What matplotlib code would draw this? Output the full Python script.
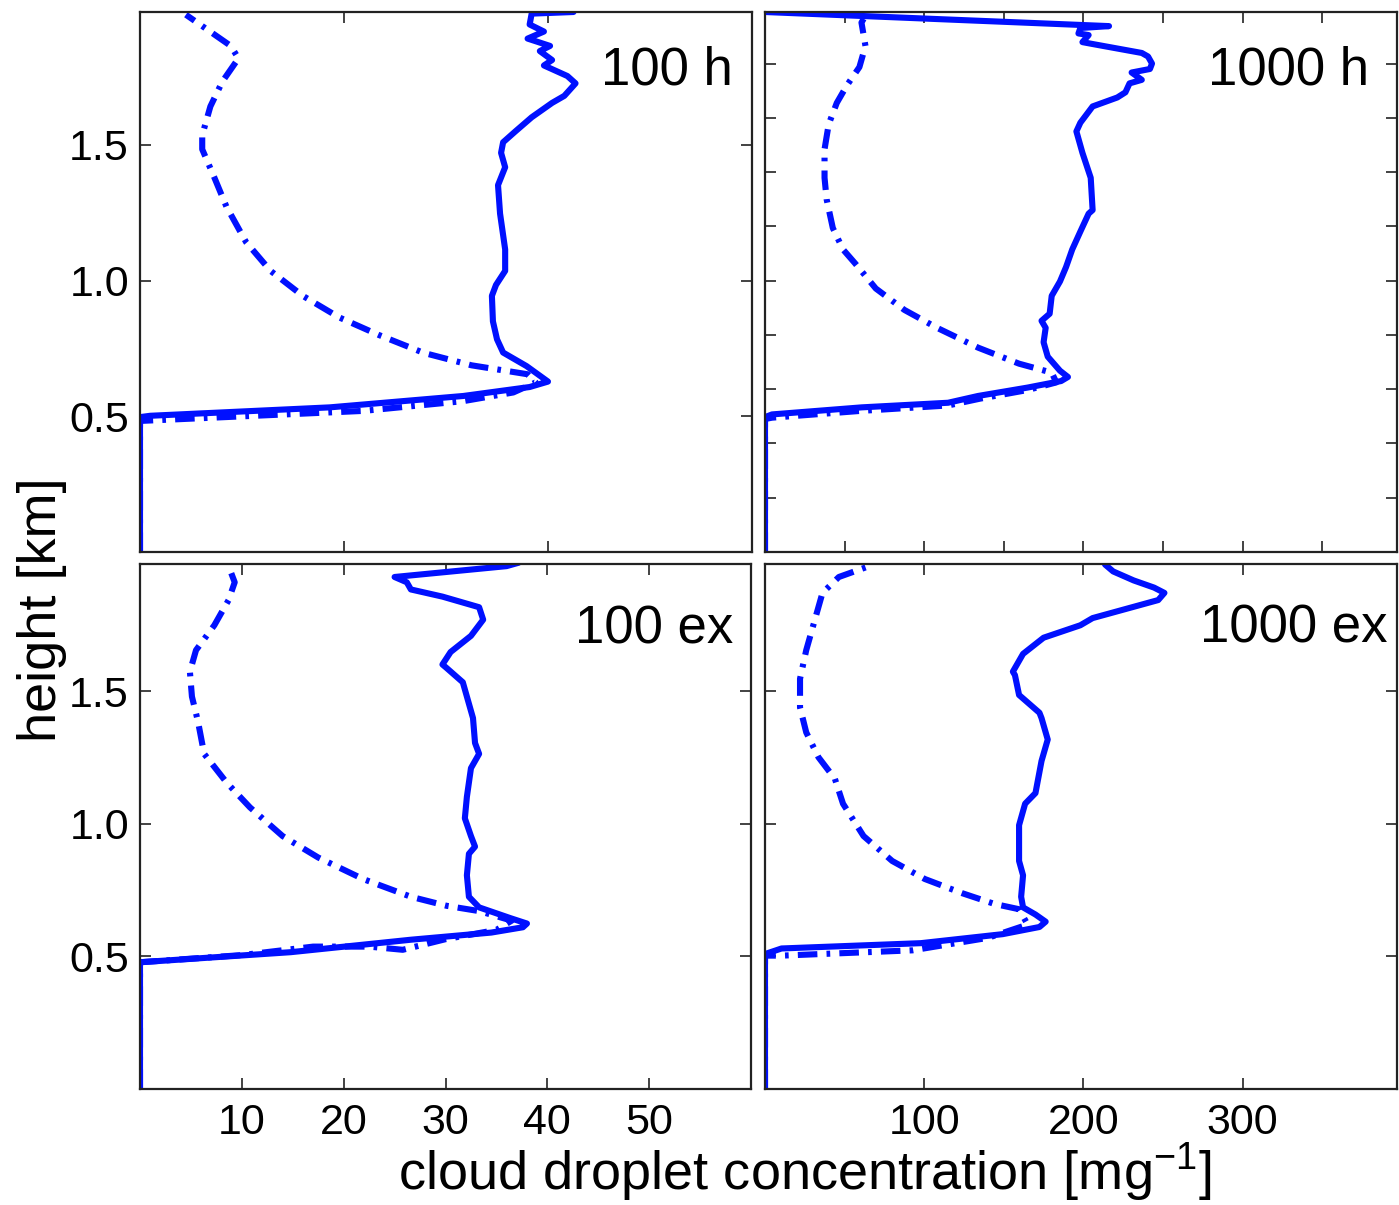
import matplotlib
matplotlib.use("Agg")
import matplotlib.pyplot as plt

plt.rcParams['font.family'] = ['Liberation Sans', 'DejaVu Sans']
plt.rcParams['mathtext.fontset'] = 'custom'
plt.rcParams['mathtext.rm'] = 'Liberation Sans'
plt.rcParams['mathtext.it'] = 'Liberation Sans:italic'

# ---------------- data ----------------
panel_labels = ["100 h", "1000 h", "100 ex", "1000 ex"]

h100_solid_x = [0, 0, 1, 18.6, 31.7, 38.2, 40.0, 37.9, 35.6, 35.0, 34.6, 34.5, 34.9, 35.8, 35.8, 35.3, 35.1,
                35.8, 35.4, 35.6, 36.8, 38.4, 40.4, 41.6, 42.7, 41.9, 39.6, 40.4, 39.2, 40.2, 38.0, 39.6, 38.2,
                38.4, 42.5]
h100_solid_y = [0, 0.497, 0.502, 0.533, 0.575, 0.608, 0.628, 0.685, 0.735, 0.784, 0.85, 0.944, 0.984, 1.036,
                1.115, 1.247, 1.352, 1.418, 1.471, 1.51, 1.55, 1.602, 1.655, 1.681, 1.727, 1.754, 1.793, 1.813,
                1.846, 1.865, 1.892, 1.918, 1.944, 1.984, 1.99]
h100_dash_x = [0, 0, 21.9, 31.7, 36.6, 38.8, 38.0, 32.5, 27.8, 23.4, 19.5, 15.96, 12.8, 10.4, 8.47, 7.3, 6.1,
               6.1, 6.9, 8.08, 9.65, 8.9, 4.5]
h100_dash_y = [0, 0.483, 0.52, 0.556, 0.588, 0.625, 0.655, 0.688, 0.734, 0.8, 0.865, 0.944, 1.036, 1.142,
               1.273, 1.379, 1.484, 1.536, 1.642, 1.734, 1.819, 1.865, 1.98]

h1000_solid_x = [0, 0, 4.4, 60.7, 115, 133.8, 165, 186, 190.3, 185.3, 177.6, 175, 176.3, 173.7, 178.8, 180.1,
                 185.3, 189.1, 193, 198.1, 203.3, 205.8, 204.6, 199.4, 195.6, 198.1, 205.8, 221.3, 226.4, 229,
                 236.7, 230.3, 241.8, 243.1, 240.6, 236.7, 205.8, 199.4, 203.3, 196.9, 198.1, 216.1, 0]
h1000_solid_y = [0, 0.497, 0.507, 0.533, 0.55, 0.575, 0.606, 0.63, 0.645, 0.668, 0.72, 0.773, 0.826, 0.852,
                 0.878, 0.944, 0.997, 1.05, 1.115, 1.181, 1.247, 1.26, 1.379, 1.471, 1.55, 1.582, 1.642, 1.675,
                 1.694, 1.727, 1.74, 1.767, 1.78, 1.8, 1.826, 1.839, 1.872, 1.879, 1.905, 1.911, 1.931, 1.938,
                 1.99]
h1000_dash_x = [0, 0, 4.4, 60, 115, 135, 165, 183, 180.1, 159.6, 133.9, 108.1, 87.6, 69.6, 56.7, 49, 42.6,
                38.7, 37.4, 37.4, 40, 45.1, 51.6, 59.3, 63.1, 60.6, 62]
h1000_dash_y = [0, 0.49, 0.495, 0.52, 0.54, 0.565, 0.597, 0.625, 0.661, 0.694, 0.753, 0.826, 0.892, 0.971,
                1.063, 1.115, 1.194, 1.3, 1.379, 1.484, 1.576, 1.655, 1.721, 1.787, 1.865, 1.951, 1.965]

ex100_solid_x = [0, 0, 14.8, 26.6, 34.5, 37.6, 38.0, 36.4, 33.3, 32.3, 32.1, 32.3, 32.9, 32.5, 31.9, 32.1,
                 32.5, 33.3, 32.9, 32.7, 32.1, 31.7, 30.1, 29.7, 30.5, 32.5, 33.7, 33.3, 29.7, 26.6, 26.2,
                 25.0, 36.0, 37.2]
ex100_solid_y = [0, 0.478, 0.516, 0.563, 0.59, 0.61, 0.624, 0.644, 0.685, 0.725, 0.806, 0.887, 0.914, 0.954,
                 1.021, 1.102, 1.21, 1.264, 1.305, 1.399, 1.48, 1.534, 1.588, 1.601, 1.648, 1.709, 1.77, 1.817,
                 1.857, 1.884, 1.911, 1.931, 1.972, 1.985]
ex100_dash_x = [0, 0, 10, 17.0, 22.5, 25.8, 30, 35, 36.5, 33.3, 30.1, 26.6, 21.9, 17.5, 14.0, 10.8, 8.5, 6.3,
                5.7, 5.1, 4.9, 5.5, 7.3, 8.7, 9.3, 8.7]
ex100_dash_y = [0, 0.478, 0.505, 0.537, 0.537, 0.525, 0.565, 0.6, 0.635, 0.671, 0.691, 0.725, 0.792, 0.873,
                0.954, 1.062, 1.156, 1.264, 1.385, 1.48, 1.574, 1.655, 1.749, 1.844, 1.911, 1.972]

ex1000_solid_x = [0, 0, 10.4, 97.9, 149.3, 172.4, 176.3, 169.9, 162.1, 160.9, 162.1, 159.6, 159.6, 163.4,
                  169.9, 173.7, 177.6, 173.7, 172.4, 159.6, 157, 155.7, 162.1, 175, 198.1, 205.8, 226.4, 247,
                  250.9, 244.4, 231.6, 218.7, 213.6]
ex1000_solid_y = [0, 0.509, 0.53, 0.55, 0.584, 0.611, 0.631, 0.658, 0.685, 0.725, 0.806, 0.86, 0.995, 1.076,
                  1.116, 1.237, 1.318, 1.399, 1.419, 1.486, 1.561, 1.574, 1.641, 1.702, 1.749, 1.776, 1.81,
                  1.844, 1.871, 1.891, 1.918, 1.952, 1.978]
ex1000_dash_x = [0, 0, 10.4, 92.7, 140, 165, 159.6, 144.1, 123.6, 100.4, 79.9, 61.9, 49, 43.9, 33.6, 25.9,
                 22, 22, 25.9, 31, 36.1, 46.4, 68.3]
ex1000_dash_y = [0, 0.503, 0.503, 0.523, 0.57, 0.62, 0.678, 0.698, 0.739, 0.792, 0.86, 0.954, 1.076, 1.17,
                 1.251, 1.345, 1.439, 1.547, 1.655, 1.763, 1.871, 1.931, 1.978]

left_xticks = [10, 20, 30, 40, 50]
left_xticks_top = [20, 40]
right_xticks = [100, 200, 300]
right_xticks_top = [50, 100, 150, 200, 250, 300, 350]
yticks = [0.5, 1.0, 1.5]
yticks_fine = [0.2, 0.4, 0.6, 0.8, 1.0, 1.2, 1.4, 1.6, 1.8]

# ---------------- figure ----------------
W, H = 1399, 1205
fig = plt.figure(figsize=(W / 100, H / 100), dpi=100)

def px_axes(x0, x1, y0, y1):
    return fig.add_axes([x0 / W, 1 - y1 / H, (x1 - x0) / W, (y1 - y0) / H])

ax_tl = px_axes(140, 752, 12, 552)
ax_tr = px_axes(765, 1397, 12, 552)
ax_bl = px_axes(140, 751, 564, 1089)
ax_br = px_axes(765, 1397, 564, 1089)

blue = '#0010ff'
dash_style = (0, (3.2, 1.5, 0.6, 1.5))

panels = [
    (ax_tl, h100_solid_x, h100_solid_y, h100_dash_x, h100_dash_y, panel_labels[0], (0.969, 0.865)),
    (ax_tr, h1000_solid_x, h1000_solid_y, h1000_dash_x, h1000_dash_y, panel_labels[1], (0.956, 0.865)),
    (ax_bl, ex100_solid_x, ex100_solid_y, ex100_dash_x, ex100_dash_y, panel_labels[2], (0.971, 0.848)),
    (ax_br, ex1000_solid_x, ex1000_solid_y, ex1000_dash_x, ex1000_dash_y, panel_labels[3], (0.985, 0.850)),
]

for ax, sx, sy, dx, dy, lab, pos in panels:
    ax.plot(dx, dy, color=blue, lw=4.4, linestyle=dash_style, dash_capstyle='butt', zorder=2)
    ax.plot(sx, sy, color=blue, lw=4.4, solid_joinstyle='round', solid_capstyle='round', zorder=2)
    ax.text(pos[0], pos[1], lab, transform=ax.transAxes, ha='right', va='baseline', fontsize=38,
            color='black')
    ax.tick_params(direction='in', length=8, width=1.2, top=True, right=True, labelsize=31,
                   colors='#222222', labelcolor='black')
    ax.tick_params(axis='x', pad=10)
    ax.tick_params(axis='y', pad=8)
    for sp in ax.spines.values():
        sp.set_linewidth(1.6)
        sp.set_color('#222222')

# limits and ticks
ax_tl.set_xlim(0, 60)
ax_bl.set_xlim(0, 60)
ax_tr.set_xlim(0, 397)
ax_br.set_xlim(0, 397)
ax_tl.set_ylim(0, 1.99)
ax_tr.set_ylim(0, 1.99)
ax_bl.set_ylim(0, 1.98)
ax_br.set_ylim(0, 1.98)

ax_tl.set_xticks(left_xticks_top)
ax_tl.set_xticklabels([])
ax_tl.set_yticks(yticks)
ax_tl.set_yticklabels([f"{v:.1f}" for v in yticks])

ax_tr.set_xticks(right_xticks_top)
ax_tr.set_xticklabels([])
ax_tr.set_yticks(yticks_fine)
ax_tr.set_yticklabels([])

ax_bl.set_xticks(left_xticks)
ax_bl.set_xticklabels([str(v) for v in left_xticks])
ax_bl.set_yticks(yticks)
ax_bl.set_yticklabels([f"{v:.1f}" for v in yticks])

ax_br.set_xticks(right_xticks)
ax_br.set_xticklabels([str(v) for v in right_xticks])
ax_br.set_yticks(yticks)
ax_br.set_yticklabels([])

fig.text(0.030, 0.494, "height [km]", rotation=90, ha='center', va='center', fontsize=39)
fig.text(0.5755, 0.0125, r"cloud droplet concentration [mg$^{-1}$]", ha='center', va='baseline',
         fontsize=39)

fig.savefig("out.png", dpi=100)
